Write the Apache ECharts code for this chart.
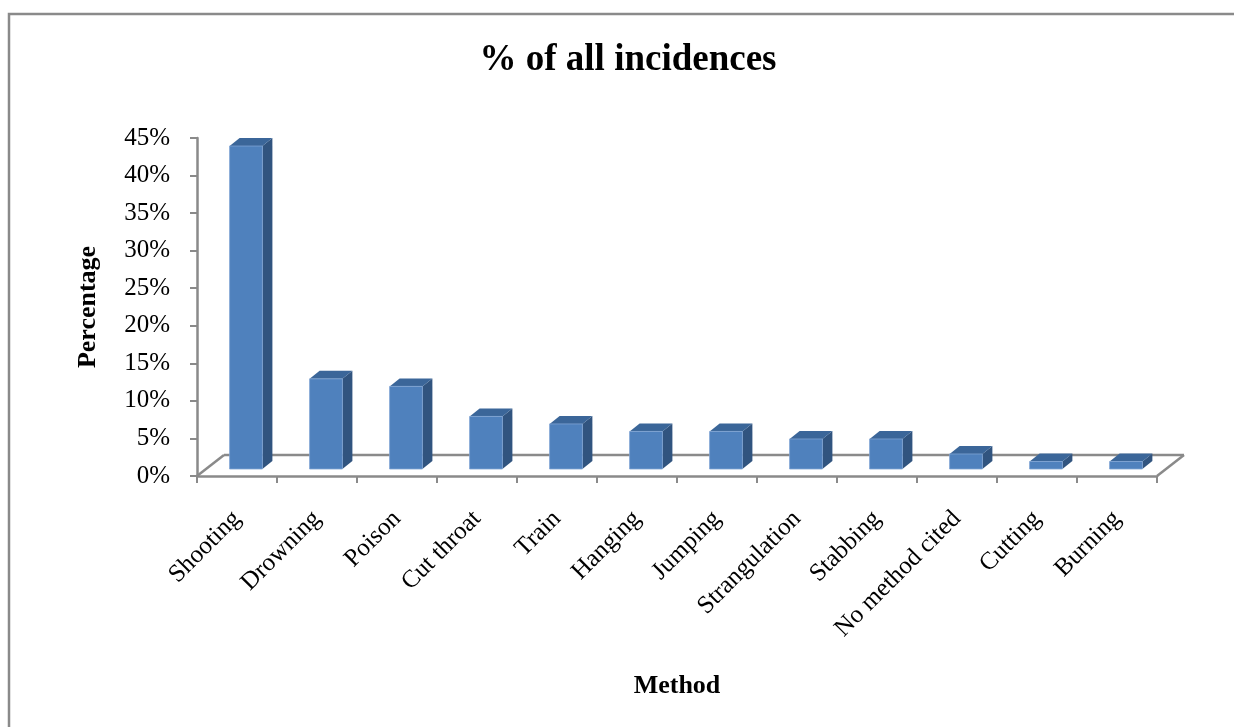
<!DOCTYPE html>
<html>
<head>
<meta charset="utf-8">
<script src="https://cdn.jsdelivr.net/npm/echarts@6/dist/echarts.min.js"></script>
<style>
  html, body { margin: 0; padding: 0; background: #ffffff; }
  #chart { width: 1234px; height: 727px; }
</style>
</head>
<body>
<div id="chart"></div>
<script>
// Share of all incidences by method
const methods = ['Shooting', 'Drowning', 'Poison', 'Cut throat', 'Train', 'Hanging',
  'Jumping', 'Strangulation', 'Stabbing', 'No method cited', 'Cutting', 'Burning'];
const percentages = [43, 12, 11, 7, 6, 5, 5, 4, 4, 2, 1, 1];
const yTicks = { min: 0, max: 45, interval: 5 };

const SERIF = "'Liberation Serif', 'Times New Roman', serif";
const AXIS_GREY = '#8a8a8a';

// 3D look: the floor recedes by FLOOR_DX/FLOOR_DY px, each column sits
// BAR_OX/BAR_OY px into it and is BAR_DX/BAR_DY px deep.
const FLOOR_DX = 27, FLOOR_DY = -21;
const BAR_OX = 9, BAR_OY = -7;
const BAR_DX = 10, BAR_DY = -8;
const BAR_RATIO = 0.41;

const FRONT = '#4f81bd', SIDE = '#31547f', TOP = '#3b6699';

function renderColumn(params, api) {
  const idx = api.value(0);
  const val = api.value(1);
  const band = api.size([1, 0])[0];
  const w = band * BAR_RATIO;
  const base = api.coord([idx, 0]);
  const top = api.coord([idx, val]);
  const x0 = base[0] - w / 2 + BAR_OX;
  const x1 = x0 + w;
  const yb = base[1] + BAR_OY;
  const yt = top[1] + BAR_OY;
  return {
    type: 'group',
    children: [
      {
        type: 'polygon',
        shape: { points: [[x1, yb], [x1 + BAR_DX, yb + BAR_DY], [x1 + BAR_DX, yt + BAR_DY], [x1, yt]] },
        style: { fill: SIDE }
      },
      {
        type: 'polygon',
        shape: { points: [[x0, yt], [x1, yt], [x1 + BAR_DX, yt + BAR_DY], [x0 + BAR_DX, yt + BAR_DY]] },
        style: { fill: TOP }
      },
      {
        type: 'rect',
        shape: { x: x0, y: yt, width: w, height: yb - yt },
        style: { fill: FRONT, stroke: '#7fa3d3', lineWidth: 0.8 }
      }
    ]
  };
}

function renderFloor(params, api) {
  const band = api.size([1, 0])[0];
  const l = api.coord([0, 0]);
  const r = api.coord([methods.length - 1, 0]);
  const lx = l[0] - band / 2, rx = r[0] + band / 2, y = l[1];
  const lineStyle = { stroke: AXIS_GREY, lineWidth: 2.5, fill: null };
  return {
    type: 'group',
    children: [
      { type: 'line', shape: { x1: lx + FLOOR_DX, y1: y + FLOOR_DY, x2: rx + FLOOR_DX, y2: y + FLOOR_DY }, style: lineStyle },
      { type: 'line', shape: { x1: lx, y1: y, x2: lx + FLOOR_DX, y2: y + FLOOR_DY }, style: lineStyle },
      { type: 'line', shape: { x1: rx, y1: y, x2: rx + FLOOR_DX, y2: y + FLOOR_DY }, style: lineStyle }
    ]
  };
}

const chart = echarts.init(document.getElementById('chart'), null, { renderer: 'canvas' });

chart.setOption({
  backgroundColor: '#ffffff',
  animation: false,
  title: {
    text: '% of all incidences',
    left: 623,
    top: 37,
    textAlign: 'center',
    textStyle: { fontFamily: SERIF, fontSize: 37, fontWeight: 'bold', color: '#000' }
  },
  graphic: [{
    type: 'rect',
    shape: { x: 9, y: 14, width: 1400, height: 900 },
    style: { fill: null, stroke: AXIS_GREY, lineWidth: 2.5 },
    silent: true
  }],
  grid: { left: 197, right: 77, top: 138, bottom: 251, containLabel: false },
  xAxis: {
    type: 'category',
    data: methods,
    boundaryGap: true,
    name: 'Method',
    nameLocation: 'middle',
    nameGap: 197,
    nameTextStyle: { fontFamily: SERIF, fontSize: 26, fontWeight: 'bold', color: '#000' },
    axisLine: { lineStyle: { color: AXIS_GREY, width: 2.5 } },
    axisTick: { show: true, inside: false, length: 7, alignWithLabel: false, lineStyle: { color: AXIS_GREY, width: 2 } },
    axisLabel: {
      interval: 0,
      rotate: 45,
      margin: 39,
      fontFamily: SERIF,
      fontSize: 25,
      color: '#000'
    },
    splitLine: { show: false }
  },
  yAxis: {
    type: 'value',
    min: yTicks.min,
    max: yTicks.max,
    interval: yTicks.interval,
    name: 'Percentage',
    nameLocation: 'middle',
    nameRotate: 90,
    nameGap: 96,
    nameTextStyle: { fontFamily: SERIF, fontSize: 26, fontWeight: 'bold', color: '#000' },
    axisLine: { show: true, lineStyle: { color: AXIS_GREY, width: 2.5 } },
    axisTick: { show: true, inside: false, length: 7, lineStyle: { color: AXIS_GREY, width: 2 } },
    axisLabel: {
      formatter: '{value}%',
      margin: 27,
      fontFamily: SERIF,
      fontSize: 25,
      color: '#000'
    },
    splitLine: { show: false }
  },
  series: [
    {
      type: 'custom',
      name: 'floor',
      z: 1,
      silent: true,
      renderItem: renderFloor,
      data: [[0, 0]],
      encode: { x: 0, y: 1 }
    },
    {
      type: 'custom',
      name: '% of all incidences',
      z: 5,
      renderItem: renderColumn,
      data: percentages.map((v, i) => [i, v]),
      encode: { x: 0, y: 1 }
    }
  ]
});
</script>
</body>
</html>
